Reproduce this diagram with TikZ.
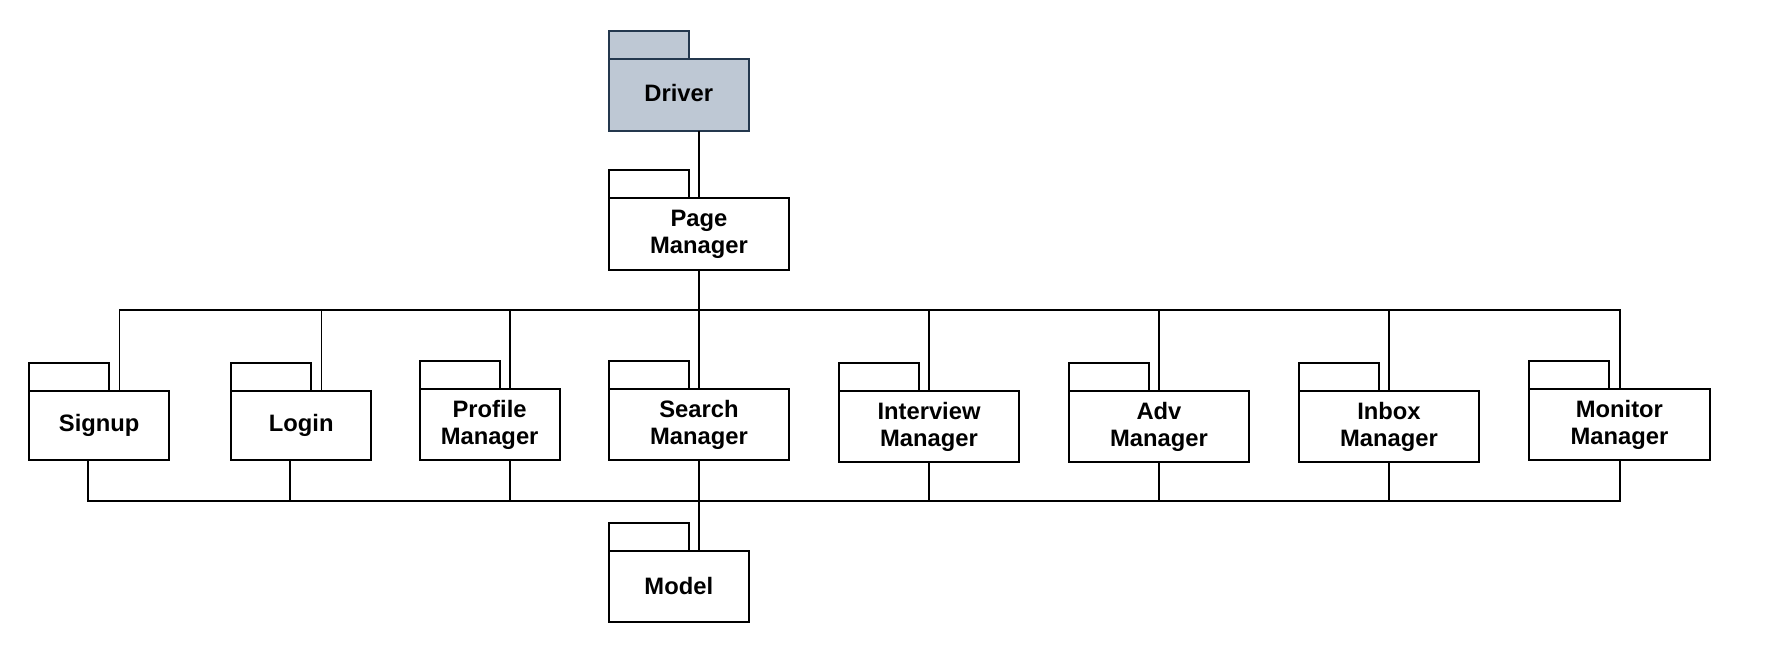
\documentclass[tikz,border=0pt]{standalone}
\usepackage{fontspec}
\setmainfont{Liberation Sans}
\usetikzlibrary{positioning, calc}
\definecolor{drvfill}{RGB}{190,200,212}
\definecolor{drvline}{RGB}{36,56,78}

% draws the folder tab on top of a package node
\newcommand{\pkgtab}[2][]{%
  \draw[tab, #1] (#2.north west) rectangle ++(2.0,0.70);}

\begin{document}
\begin{tikzpicture}[
  font=\bfseries\fontsize{16.9}{19.4}\selectfont,
  pkg/.style={
    draw=black, line width=1.3pt, fill=white,
    anchor=north west, inner sep=0pt, outer sep=0pt,
    minimum width=3.5cm, minimum height=1.78cm,
    align=center
  },
  pkgwide/.style={pkg, minimum width=4.51cm},
  tab/.style={draw=black, line width=1.3pt, fill=white},
  drv/.style={draw=drvline, fill=drvfill},
  wire/.style={line width=1.25pt, draw=black},
]
\useasboundingbox (0,0) rectangle (44.20,-16.15);

% ---- geometry ----
\def\yrow{-9.78}   % top of the package row
\def\ybt{-7.75}    % upper bus
\def\ybb{-12.52}   % lower bus
\def\xin{2.26}     % where wires meet a package (from its left edge)

% =====================================================
% PACKAGES
% =====================================================
\node[pkg, drv, minimum height=1.80cm] (driver) at (15.22,-1.47)
  {\raisebox{2pt}{Driver}};
\pkgtab[drv]{driver}

\node[pkgwide, minimum height=1.80cm] (pagemgr) at (15.22,-4.96) {Page\\Manager};
\pkgtab{pagemgr}

\node[pkg, minimum height=1.72cm] (signup) at (0.73,\yrow) {Signup};
\node[pkg, minimum height=1.72cm] (login) at (5.78,\yrow) {Login};
\node[pkg] (profile) at (10.49,-9.73) {Profile\\Manager};
\node[pkgwide] (search) at (15.22,-9.73) {Search\\Manager};
\node[pkgwide] (interview) at (20.97,\yrow) {Interview\\Manager};
\node[pkgwide] (adv) at (26.72,\yrow) {Adv\\Manager};
\node[pkgwide] (inbox) at (32.47,\yrow) {Inbox\\Manager};
\node[pkgwide] (monitor) at (38.23,-9.73) {Monitor\\Manager};
\foreach \p in {signup,login,profile,search,interview,adv,inbox,monitor}
  {\pkgtab{\p}}

\node[pkg] (model) at (15.22,-13.78) {\raisebox{2pt}{Model}};
\pkgtab{model}

% =====================================================
% WIRE END POINTS
% =====================================================
\coordinate (bustop) at (0,\ybt);
\coordinate (busbot) at (0,\ybb);
\foreach \p in {pagemgr,profile,search,interview,adv,inbox,monitor,model} {
  \coordinate (\p-in) at ($(\p.north west)+(\xin,0)$);
}
\foreach \p in {signup,login} {
  \coordinate (\p-in) at ($(\p.north west)+(\xin,0)$);
  \coordinate (\p-out) at ($(\p.south west)+(1.47,0)$);
}
\foreach \p in {profile,search,interview,adv,inbox,monitor} {
  \coordinate (\p-out) at ($(\p.south west)+(\xin,0)$);
}

% =====================================================
% WIRES
% =====================================================
\draw[wire] (pagemgr-in |- driver.south) -- (pagemgr-in);
\draw[wire] (pagemgr-in |- pagemgr.south) -- (pagemgr-in |- bustop);

% upper bus
\draw[wire] (signup-in) -- (signup-in |- bustop) -- (monitor-in |- bustop) -- (monitor-in);
\foreach \p in {login,profile,search,interview,adv,inbox}
  {\draw[wire] (\p-in |- bustop) -- (\p-in);}

% lower bus
\draw[wire] (signup-out) -- (signup-out |- busbot) -- (monitor-out |- busbot) -- (monitor-out);
\foreach \p in {login,profile,search,interview,adv,inbox}
  {\draw[wire] (\p-out) -- (\p-out |- busbot);}
\draw[wire] (model-in |- busbot) -- (model-in);

\end{tikzpicture}
\end{document}
